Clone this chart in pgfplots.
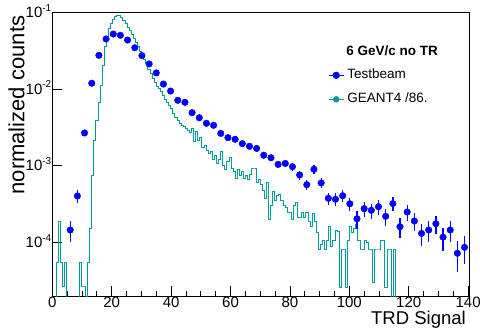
\documentclass[border=0pt]{standalone}
\usepackage{fontspec}
\setmainfont{Liberation Sans}
\usepackage{pgfplots}
\pgfplotsset{compat=1.18}
\definecolor{tb}{RGB}{0,0,255}
\definecolor{gf}{RGB}{0,155,155}
\newcommand{\ex}[1]{10\raisebox{6.5pt}{\fontsize{10}{12}\selectfont #1}}
\begin{document}
\begin{tikzpicture}
\useasboundingbox (0pt,0pt) rectangle (480pt,-331pt);
\begin{axis}[
  scale only axis, width=417pt, height=283.7pt,
  anchor=south west, at={(52.3pt,-296pt)},
  xmin=0, xmax=140.4, ymin=2e-5, ymax=0.1,
  ymode=log, log basis y=10,
  axis line style={line width=1pt},
  tick style={black, line width=0.8pt},
  major tick length=10pt, minor tick length=5.5pt,
  tick align=inside, xtick pos=bottom, ytick pos=left,
  xtick={0,20,...,140}, minor x tick num=3,
  ytick={1e-4,1e-3,1e-2,1e-1},
  yticklabels={\ex{-4},\ex{-3},\ex{-2},\ex{-1}},
  /pgf/number format/assume math mode=true,
  tick label style={font=\fontsize{15}{18}\selectfont},
  yticklabel style={anchor=base east, yshift=-5.3pt, xshift=2.5pt},
  xticklabel style={yshift=2.5pt},
  xlabel={TRD Signal}, ylabel={normalized counts},
  every axis x label/.style={at={(axis description cs:1,-0.102)}, anchor=base east, font=\fontsize{18.5}{22}\selectfont},
  every axis y label/.style={at={(axis description cs:-0.0667,1)}, rotate=90, anchor=base east, font=\fontsize{22}{26}\selectfont},
  legend image code/.code={\draw[mark repeat=2,mark phase=2,#1] plot coordinates {(0pt,0pt) (7.5pt,0pt) (15pt,0pt)};},
  legend style={at={(rel axis cs:0.661,0.805)}, anchor=north west, draw=none, fill=none,
    font=\fontsize{13.5}{16}\selectfont, row sep=9pt, inner sep=0pt, column sep=2pt,
    nodes={inner sep=1pt, text height=10pt, text depth=3pt}},
  legend cell align=left,
]
\addplot[const plot mark left, draw=gf, mark=none, line width=1pt, forget plot] table[x=x, y=y] {
x y
0 1e-7
0.7 1e-7
1.4 5.43e-5
2.1 1.86e-4
2.8 5.43e-5
3.5 2.64e-5
4.2 5.43e-5
4.9 1e-7
5.6 1e-7
6.3 1e-7
7.0 1e-7
7.7 1e-7
8.4 1e-7
9.1 5.43e-5
9.8 2.70e-5
10.5 2.70e-5
11.2 1e-7
11.9 5.43e-5
12.6 1.54e-4
13.3 7.56e-4
14.0 2.16e-3
14.7 3.94e-3
15.4 6.57e-3
16.1 1.127e-2
16.8 2.00e-2
17.5 3.53e-2
18.2 4.76e-2
18.9 6.06e-2
19.6 7.25e-2
20.3 8.06e-2
21.0 8.76e-2
21.7 9.22e-2
22.4 8.95e-2
23.1 8.43e-2
23.8 7.82e-2
24.5 7.04e-2
25.2 6.43e-2
25.9 5.79e-2
26.6 5.21e-2
27.3 4.55e-2
28.0 3.98e-2
28.7 3.53e-2
29.4 3.04e-2
30.1 2.64e-2
30.8 2.42e-2
31.5 2.18e-2
32.2 1.82e-2
32.9 1.57e-2
33.6 1.39e-2
34.3 1.20e-2
35.0 1.062e-2
35.7 1.00e-2
36.4 9.14e-3
37.1 8.35e-3
37.8 7.19e-3
38.5 6.57e-3
39.2 6.18e-3
39.9 5.65e-3
40.6 4.86e-3
41.3 4.31e-3
42.0 3.83e-3
42.7 3.50e-3
43.4 3.39e-3
44.1 3.20e-3
44.8 3.01e-3
45.5 2.92e-3
46.2 2.75e-3
46.9 3.10e-3
47.6 2.04e-3
48.3 2.83e-3
49.0 2.10e-3
49.7 2.30e-3
50.4 1.75e-3
51.1 1.81e-3
51.8 1.60e-3
52.5 1.46e-3
53.2 1.51e-3
53.9 1.19e-3
54.6 1.34e-3
55.3 1.08e-3
56.0 1.19e-3
56.7 1.51e-3
57.4 1.02e-3
58.1 8.79e-4
58.8 1.12e-3
59.5 1.26e-3
60.2 9.33e-4
60.9 8.28e-4
61.6 6.91e-4
62.3 8.79e-4
63.0 7.56e-4
63.7 8.28e-4
64.4 6.91e-4
65.1 7.34e-4
65.8 6.51e-4
66.5 7.79e-4
67.2 9.33e-4
67.9 9.33e-4
68.6 5.95e-4
69.3 6.51e-4
70.0 5.77e-4
70.7 4.82e-4
71.4 3.79e-4
72.1 5.95e-4
72.8 1.96e-4
73.5 3.07e-4
74.2 4.54e-4
74.9 3.57e-4
75.6 4.03e-4
76.3 4.15e-4
77.0 3.57e-4
77.7 3.07e-4
78.4 2.89e-4
79.1 2.49e-4
79.8 2.42e-4
80.5 1.96e-4
81.2 3.07e-4
81.9 3.36e-4
82.6 2.14e-4
83.3 2.14e-4
84.0 2.49e-4
84.7 2.08e-4
85.4 2.42e-4
86.1 1.85e-4
86.8 1.59e-4
87.5 2.35e-4
88.2 1.85e-4
88.9 1.33e-4
89.6 7.96e-5
90.3 9.25e-5
91.0 1.07e-4
91.7 7.96e-5
92.4 1.07e-4
93.1 1.59e-4
93.8 8.71e-5
94.5 1.07e-4
95.2 1.45e-4
95.9 1.37e-4
96.6 2.62e-5
97.3 7.96e-5
98.0 7.96e-5
98.7 2.62e-5
99.4 1.07e-4
100.1 1.59e-4
100.8 1.33e-4
101.5 1.54e-4
102.2 1.69e-4
102.9 1.07e-4
103.6 7.96e-5
104.3 7.96e-5
105.0 1.07e-4
105.7 9.82e-5
106.4 7.96e-5
107.1 7.96e-5
107.8 2.96e-5
108.5 7.96e-5
109.2 7.96e-5
109.9 7.96e-5
110.6 1.07e-4
111.3 1.07e-4
112.0 2.62e-5
112.7 7.96e-5
113.4 7.96e-5
114.1 1e-7
114.8 7.96e-5
115.5 1e-7
140.0 1e-7
};
\addplot[only marks, mark=*, mark size=3.3pt, color=tb, mark options={fill=tb, draw=tb}, forget plot,
  error bars/.cd, y dir=both, y explicit, error mark=none,
  error bar style={line width=1.3pt, tb}] table[x=x, y=y, y error=e] {
x y e
6.03 1.45e-4 4.4e-5
8.45 4.03e-4 7.3e-5
10.86 2.67e-3 1.9e-4
13.28 1.19e-2 4.0e-4
15.69 2.75e-2 6.0e-4
18.10 4.49e-2 7.7e-4
20.52 5.21e-2 8.3e-4
22.93 5.01e-2 8.1e-4
25.34 4.35e-2 7.6e-4
27.76 3.45e-2 6.7e-4
30.17 2.72e-2 6.0e-4
32.59 2.12e-2 5.3e-4
35.00 1.62e-2 4.6e-4
37.41 1.16e-2 3.9e-4
39.83 9.41e-3 3.5e-4
42.24 7.12e-3 3.1e-4
44.66 6.71e-3 3.0e-4
47.07 4.91e-3 2.5e-4
49.48 4.22e-3 2.4e-4
51.90 3.57e-3 2.2e-4
54.31 3.36e-3 2.1e-4
56.72 2.64e-3 1.9e-4
59.14 2.32e-3 1.75e-4
61.55 2.21e-3 1.7e-4
63.97 1.94e-3 1.6e-4
66.38 1.79e-3 1.53e-4
68.79 1.68e-3 1.49e-4
71.21 1.37e-3 1.34e-4
73.62 1.27e-3 1.29e-4
76.03 1.04e-3 1.17e-4
78.45 1.07e-3 1.19e-4
80.86 9.70e-4 1.13e-4
83.28 7.57e-4 1.0e-4
85.69 5.65e-4 8.6e-5
88.10 8.97e-4 1.09e-4
90.52 5.95e-4 8.8e-5
92.93 3.76e-4 7.0e-5
95.34 3.65e-4 6.9e-5
97.76 4.06e-4 7.3e-5
100.17 3.19e-4 6.5e-5
102.59 2.03e-4 5.2e-5
105.00 2.75e-4 6.0e-5
107.41 2.62e-4 5.9e-5
109.83 2.92e-4 6.2e-5
112.24 2.19e-4 5.4e-5
114.66 3.20e-4 6.5e-5
117.07 1.60e-4 4.6e-5
119.48 2.49e-4 5.7e-5
121.90 1.90e-4 5.0e-5
124.31 1.31e-4 4.2e-5
126.72 1.45e-4 4.4e-5
129.14 1.75e-4 4.8e-5
131.55 1.17e-4 3.9e-5
133.97 1.45e-4 4.4e-5
136.38 7.21e-5 3.1e-5
138.79 8.63e-5 3.4e-5
};
\addlegendimage{tb, line width=1.2pt, mark=*, mark size=3pt, mark options={solid, fill=tb}}
\addlegendentry{Testbeam}
\addlegendimage{gf, line width=1.2pt, mark=*, mark size=2.6pt, mark options={solid, fill=gf}}
\addlegendentry{GEANT4 /86.}
\node[anchor=base, font=\fontsize{13.5}{16}\selectfont\bfseries] at (axis cs:114.4,0.02775) {6 GeV/c no TR};
\end{axis}
\end{tikzpicture}
\end{document}
